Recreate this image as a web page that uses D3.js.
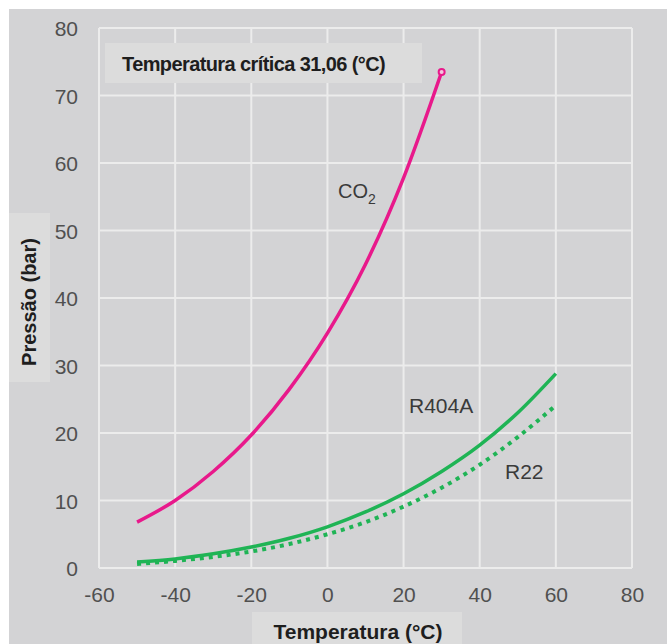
<!DOCTYPE html>
<html>
<head>
<meta charset="utf-8">
<script src="https://d3js.org/d3.v7.min.js"></script>
<style>
    body { margin: 0; background: #ffffff; }
    svg { display: block; font-family: "Liberation Sans", Arial, sans-serif; }
</style>
</head>
<body>
<div id="chart"></div>
<script>
// Dades (llegides del gràfic)
var temperatures = [-50, -40, -30, -20, -10, 0, 10, 20, 30, 40, 50, 60];
var co2Temps = [-50, -40, -30, -20, -10, 0, 10, 20, 30];
var co2Values = [6.8, 10.0, 14.3, 19.7, 26.5, 34.8, 45.0, 57.8, 73.5];
var r404aValues = [0.9, 1.35, 2.1, 3.1, 4.4, 6.1, 8.3, 11.0, 14.3, 18.2, 23.0, 28.8];
var r22Values = [0.6, 1.05, 1.65, 2.45, 3.55, 5.0, 6.8, 9.1, 11.9, 15.3, 19.4, 24.1];
var criticalPoint = {t: 30, p: 73.5};
var xTicks = [-60, -40, -20, 0, 20, 40, 60, 80];
var yTicks = [0, 10, 20, 30, 40, 50, 60, 70, 80];

var W = 667, H = 644;
var margin = {top: 28, right: 35, bottom: 76, left: 99};

var svg = d3.select("#chart")
    .append("svg")
    .attr("width", W)
    .attr("height", H);

// fons gris
svg.append("rect")
    .attr("x", 9).attr("y", 9)
    .attr("width", W - 9).attr("height", H - 9)
    .attr("fill", "#d3d3d5");

var x = d3.scaleLinear()
    .domain([-60, 80])
    .range([margin.left, W - margin.right]);

var y = d3.scaleLinear()
    .domain([0, 80])
    .range([H - margin.bottom, margin.top]);

// graella
svg.append("g")
    .selectAll("line")
    .data(xTicks)
    .enter()
    .append("line")
    .attr("x1", d => x(d)).attr("x2", d => x(d))
    .attr("y1", y(0)).attr("y2", y(80))
    .attr("stroke", "#ececec")
    .attr("stroke-width", 2);

svg.append("g")
    .selectAll("line")
    .data(yTicks)
    .enter()
    .append("line")
    .attr("x1", x(-60)).attr("x2", x(80))
    .attr("y1", d => y(d)).attr("y2", d => y(d))
    .attr("stroke", "#ececec")
    .attr("stroke-width", 2);

// eixos (només etiquetes, amb guionet normal)
var xAxis = svg.append("g")
    .attr("transform", "translate(0," + y(0) + ")")
    .call(d3.axisBottom(x).tickValues(xTicks).tickFormat(d => String(d)).tickSize(0).tickPadding(19));
var yAxis = svg.append("g")
    .attr("transform", "translate(" + x(-60) + ",0)")
    .call(d3.axisLeft(y).tickValues(yTicks).tickFormat(d => String(d)).tickSize(0).tickPadding(21));
[xAxis, yAxis].forEach(function (a) {
    a.select(".domain").remove();
    a.selectAll("text")
        .attr("fill", "#505050")
        .style("font-size", "21px")
        .style("font-family", "'Liberation Sans', Arial, sans-serif");
});
yAxis.selectAll("text").attr("dy", "0.36em");

// caixa temperatura crítica
svg.append("rect")
    .attr("x", 105).attr("y", 43)
    .attr("width", 317).attr("height", 40)
    .attr("fill", "#dcdcdc");
svg.append("text")
    .attr("x", 122).attr("y", 71)
    .attr("fill", "#1e1e1e")
    .style("font-size", "20px")
    .style("font-weight", "bold")
    .style("letter-spacing", "-0.6px")
    .text("Temperatura crítica 31,06 (°C)");

// corbes
var line = d3.line()
    .x(d => x(d[0]))
    .y(d => y(d[1]))
    .curve(d3.curveMonotoneX);

svg.append("path")
    .datum(co2Temps.map((t, i) => [t, co2Values[i]]))
    .attr("d", line)
    .attr("fill", "none")
    .attr("stroke", "#e8198b")
    .attr("stroke-width", 3.5);

svg.append("circle")
    .attr("cx", x(criticalPoint.t))
    .attr("cy", y(criticalPoint.p))
    .attr("r", 3)
    .attr("fill", "#f3c6de")
    .attr("stroke", "#e8198b")
    .attr("stroke-width", 2);

svg.append("path")
    .datum(temperatures.map((t, i) => [t, r22Values[i]]))
    .attr("d", line)
    .attr("fill", "none")
    .attr("stroke", "#1fb455")
    .attr("stroke-width", 4)
    .attr("stroke-dasharray", "4,5");

svg.append("path")
    .datum(temperatures.map((t, i) => [t, r404aValues[i]]))
    .attr("d", line)
    .attr("fill", "none")
    .attr("stroke", "#1fb455")
    .attr("stroke-width", 3.5);

// etiquetes de les corbes
var co2Label = svg.append("text")
    .attr("x", 338).attr("y", 198)
    .attr("fill", "#3a3a3a")
    .style("font-size", "20px");
co2Label.append("tspan").text("CO");
co2Label.append("tspan").attr("dy", 6).style("font-size", "14px").text("2");

svg.append("text")
    .attr("x", 409).attr("y", 413)
    .attr("fill", "#3a3a3a")
    .style("font-size", "21px")
    .text("R404A");

svg.append("text")
    .attr("x", 505).attr("y", 479)
    .attr("fill", "#3a3a3a")
    .style("font-size", "21px")
    .text("R22");

// títols dels eixos
svg.append("rect")
    .attr("x", 252).attr("y", 612)
    .attr("width", 210).attr("height", 32)
    .attr("fill", "#dcdcdc");
svg.append("text")
    .attr("x", 358).attr("y", 639)
    .attr("text-anchor", "middle")
    .attr("fill", "#1e1e1e")
    .style("font-size", "21px")
    .style("font-weight", "bold")
    .text("Temperatura (°C)");

svg.append("rect")
    .attr("x", 9).attr("y", 213)
    .attr("width", 41).attr("height", 169)
    .attr("fill", "#dcdcdc");
svg.append("text")
    .attr("transform", "translate(36,302) rotate(-90)")
    .attr("text-anchor", "middle")
    .attr("fill", "#1e1e1e")
    .style("font-size", "20px")
    .style("font-weight", "bold")
    .text("Pressão (bar)");
</script>
</body>
</html>
